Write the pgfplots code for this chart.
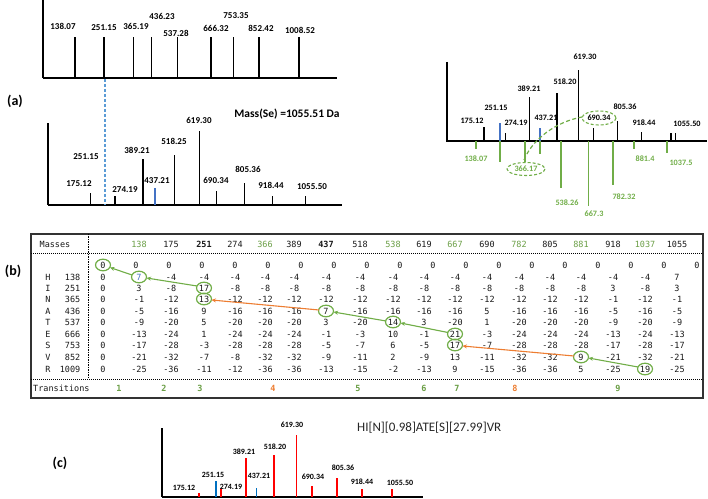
\documentclass[border=0pt]{standalone}
\usepackage{fontspec}
\setmainfont{Carlito}
\setmonofont{DejaVu Sans Mono}
\usepackage{pgfplots}
\pgfplotsset{compat=1.18}
\usetikzlibrary{arrows.meta}

\definecolor{pkgreen}{HTML}{70AD47}
\definecolor{tgreen}{HTML}{6A9E45}
\definecolor{pkblue}{HTML}{4472C4}
\definecolor{dashblue}{HTML}{5B9BD5}
\definecolor{pkorange}{HTML}{ED7D31}
\definecolor{cblue}{HTML}{0070C0}

\pgfplotsset{
  spec/.style={scale only axis, anchor=south west,
    axis x line=bottom, axis y line=left,
    axis line style={-, line width=1.3pt},
    xtick=\empty, ytick=\empty, ymin=0, clip=false},
}

% one row of the score table: y position, 19 values
\newcommand\tabrow[2]{%
  \foreach \v [count=\i from 0] in {#2} {%
    \pgfmathsetmacro\xx{{103,139,171,204,235,265,294,326,360,393,424,455,487,519,550,581,613,645,677}[\i]}%
    \node[tt] at (\xx,#1) {\v};}}

\begin{document}
\begin{tikzpicture}
\useasboundingbox (0,0) rectangle (708pt,498pt);

% (a) top: theoretical fragments
\begin{axis}[spec, at={(43pt,420pt)}, width=294pt, height=78pt,
  xmin=14, xmax=1156, ymax=78]
\addplot[ycomb, black, line width=1.3pt] coordinates {
(138.07,41) (251.15,41) (365.19,41) (436.23,41) (537.28,41)
(666.32,41) (753.35,41) (852.42,41) (1008.52,41)};
\end{axis}

% (a) bottom: experimental spectrum
\begin{axis}[spec, at={(48pt,293pt)}, width=294pt, height=82pt,
  xmin=0, xmax=1204, ymax=82]
\addplot[ycomb, black, line width=1.3pt] coordinates {
(175.12,12) (274.19,9) (389.21,46) (518.25,50) (619.30,74)
(690.34,14) (805.36,22) (918.44,9) (1055.50,9)};
\addplot[ycomb, pkblue, line width=1.6pt] coordinates {(437.21,17)};
\end{axis}

% (a) right: mirrored spectrum
\begin{axis}[scale only axis, anchor=south west, at={(447pt,292pt)},
  width=260pt, height=144pt, xmin=0, xmax=1226, ymin=-65, ymax=79,
  axis lines=none, clip=false]
\draw[line width=1.3pt] (axis cs:0,79) -- (axis cs:0,0) -- (axis cs:1226,0);
\addplot[ycomb, black, line width=1.3pt] coordinates {
(175.12,14) (274.19,8) (389.21,44) (518.20,48) (619.30,71)
(690.34,13) (805.36,20) (918.44,9) (1055.50,8) (1078,8)};
\addplot[ycomb, pkblue, line width=1.6pt] coordinates {(251.15,18) (437.21,13)};
\addplot[ycomb, pkgreen, line width=1.8pt] coordinates {
(138.07,-8) (251.15,-21) (366.17,-21) (437.21,-13) (538.26,-47)
(667.3,-65) (782.32,-44) (881.4,-8) (1037.5,-12)};
\end{axis}

% (c) annotated spectrum
\begin{axis}[spec, at={(162pt,1pt)}, width=261pt, height=69pt,
  xmin=6, xmax=1197, ymax=69]
\addplot[ycomb, red, line width=1.8pt] coordinates {
(175.12,4) (274.19,8) (389.21,39) (518.20,42) (619.30,62)
(690.34,11) (805.36,19) (918.44,8) (1055.50,8)};
\addplot[ycomb, cblue, line width=1.8pt] coordinates {(251.15,16) (437.21,9)};
\end{axis}

% text and annotations, in pixel coordinates (y down)
\begin{scope}[shift={(0pt,498pt)}, x=1pt, y=-1pt,
  lbl/.style={font=\fontsize{9}{10}\selectfont\bfseries, inner sep=0pt},
  slbl/.style={font=\fontsize{8.2}{9}\selectfont\bfseries, inner sep=0pt},
  tt/.style={font=\fontsize{8.5}{9}\selectfont\ttfamily, inner sep=0pt, text=black!90},
  pan/.style={font=\fontsize{14}{15}\selectfont\bfseries, inner sep=0pt},
  arr/.style={line width=1.1pt, -{Stealth[length=4.5pt,width=4pt]}},
  ring/.style={pkgreen, line width=1.2pt}]

\node[pan] at (15,101) {(a)};
\node[pan] at (13,271) {(b)};
\node[pan] at (60,463) {(c)};

% top-left labels
\begin{scope}[every node/.style={lbl}]
\node at (63,26) {138.07};
\node at (104,28) {251.15};
\node at (136,26) {365.19};
\node at (162,16) {436.23};
\node at (176,33) {537.28};
\node at (216,28) {666.32};
\node at (236,16) {753.35};
\node at (261,28) {852.42};
\node at (300,30) {1008.52};
% bottom-left labels
\node at (79,184) {175.12};
\node at (86,157) {251.15};
\node at (125,190) {274.19};
\node at (137,150) {389.21};
\node at (157,181) {437.21};
\node at (174,141) {518.25};
\node at (199,120) {619.30};
\node at (216,180) {690.34};
\node at (248,169) {805.36};
\node at (271,185) {918.44};
\node at (312,187) {1055.50};
\end{scope}
\node[font=\fontsize{11.5}{12}\selectfont\bfseries] at (287,114) {Mass(Se) =1055.51 Da};
\draw[dashblue, line width=1.3pt, dash pattern=on 3pt off 2pt] (105,79) -- (105,205);

% right spectrum labels
\begin{scope}[every node/.style={slbl}]
\node at (472,121) {175.12};
\node at (496,108) {251.15};
\node at (516,123) {274.19};
\node at (529,89) {389.21};
\node at (546,118) {437.21};
\node at (565,82) {518.20};
\node at (585,57) {619.30};
\node at (599,118) {690.34};
\node at (625,107) {805.36};
\node at (644,123) {918.44};
\node at (687,124) {1055.50};
\end{scope}
\begin{scope}[every node/.style={slbl, text=pkgreen}]
\node at (476,159) {138.07};
\node at (526,169) {366.17};
\node at (567,203) {538.26};
\node at (594,214) {667.3};
\node at (624,197) {782.32};
\node at (645,159) {881.4};
\node at (681,163) {1037.5};
\end{scope}
\draw[pkgreen, line width=1.1pt, dash pattern=on 3pt off 2pt] (599,118) ellipse [x radius=17, y radius=7];
\draw[pkgreen, line width=1.1pt, dash pattern=on 3pt off 2pt] (526,169) ellipse [x radius=19, y radius=6.5];
\draw[pkgreen, line width=1.2pt, dash pattern=on 4pt off 2.5pt] (524,160) .. controls (532,140) and (555,122) .. (582,117);

% (b) score table
\draw[line width=1.3pt, black!80] (31,234) rectangle (703,398);
\draw[line width=0.5pt, dash pattern=on 1.2pt off 0.8pt] (31,253) -- (703,253);
\draw[line width=0.5pt, dash pattern=on 1.2pt off 0.8pt] (31,379) -- (703,379);
\draw[line width=0.6pt, dash pattern=on 1.5pt off 1pt] (88,234) -- (88,379);

\node[tt] at (55,244) {Masses};
\tabrow{244}{,\textcolor{tgreen}{138},175,\textbf{251},274,\textcolor{tgreen}{366},389,\textbf{437},518,\textcolor{tgreen}{538},619,\textcolor{tgreen}{667},690,\textcolor{tgreen}{782},805,\textcolor{tgreen}{881},918,\textcolor{tgreen}{1037},1055}
\foreach \i in {0,...,18} \node[tt] at ({103+33*\i},265) {0};
\foreach \r/\m/\y in {H/138/277, I/251/288, N/365/299, A/436/311, T/537/322,
  E/666/334, S/753/345, V/852/357, R/1009/369} {
  \node[tt] at (48,\y) {\r};
  \node[tt, anchor=east] at (80.5,\y) {\m};}
\tabrow{277}{0,\textcolor{pkblue}{7},-4,-4,-4,-4,-4,-4,-4,-4,-4,-4,-4,-4,-4,-4,-4,-4,7}
\tabrow{288}{0,3,-8,17,-8,-8,-8,-8,-8,-8,-8,-8,-8,-8,-8,-8,3,-8,3}
\tabrow{299}{0,-1,-12,13,-12,-12,-12,-12,-12,-12,-12,-12,-12,-12,-12,-12,-1,-12,-1}
\tabrow{311}{0,-5,-16,9,-16,-16,-16,7,-16,-16,-16,-16,5,-16,-16,-16,-5,-16,-5}
\tabrow{322}{0,-9,-20,5,-20,-20,-20,3,-20,14,3,-20,1,-20,-20,-20,-9,-20,-9}
\tabrow{334}{0,-13,-24,1,-24,-24,-24,-1,-3,10,-1,21,-3,-24,-24,-24,-13,-24,-13}
\tabrow{345}{0,-17,-28,-3,-28,-28,-28,-5,-7,6,-5,17,-7,-28,-28,-28,-17,-28,-17}
\tabrow{357}{0,-21,-32,-7,-8,-32,-32,-9,-11,2,-9,13,-11,-32,-32,9,-21,-32,-21}
\tabrow{369}{0,-25,-36,-11,-12,-36,-36,-13,-15,-2,-13,9,-15,-36,-36,5,-25,19,-25}

\node[tt, anchor=west] at (33,388) {Transitions};
\foreach \x/\n/\c in {119/1/tgreen, 164/2/tgreen, 200/3/tgreen, 273/4/pkorange,
  358/5/tgreen, 424/6/tgreen, 457/7/tgreen, 515/8/pkorange, 618/9/tgreen}
  \node[tt, text=\c, font=\fontsize{8.5}{9}\selectfont\ttfamily\bfseries] at (\x,388) {\n};

% traceback path
\foreach \x/\y in {103/265, 139/277, 204/288, 204/299, 326/311, 393/322,
  455/334, 455/345, 581/357, 645/369}
  \draw[ring] (\x,\y) ellipse [x radius=7.5, y radius=5.8];
\draw[arr, pkgreen] (132,275) -- (110,267.5);
\draw[arr, pkgreen] (197,286) -- (146.5,278);
\draw[arr, pkorange] (319,310) -- (211.5,300);
\draw[arr, pkgreen] (386,321) -- (333.5,312);
\draw[arr, pkgreen] (448,332.5) -- (400.5,323);
\draw[arr, pkorange] (574,356) -- (462.5,346);
\draw[arr, pkgreen] (638,367) -- (588.5,358);

% (c) labels
\begin{scope}[every node/.style={font=\fontsize{8}{9}\selectfont\bfseries, inner sep=0pt}]
\node at (184,488) {175.12};
\node at (213,475) {251.15};
\node at (231,487) {274.19};
\node at (244,452) {389.21};
\node at (259,476) {437.21};
\node at (275,447) {518.20};
\node at (292,425) {619.30};
\node at (313,477) {690.34};
\node at (343,468) {805.36};
\node at (362,482) {918.44};
\node at (400,483) {1055.50};
\end{scope}
\node[font=\fontsize{13}{14}\selectfont, text=black!85, anchor=west, inner sep=0pt] at (357,428) {HI[N][0.98]ATE[S][27.99]VR};
\end{scope}
\end{tikzpicture}
\end{document}
